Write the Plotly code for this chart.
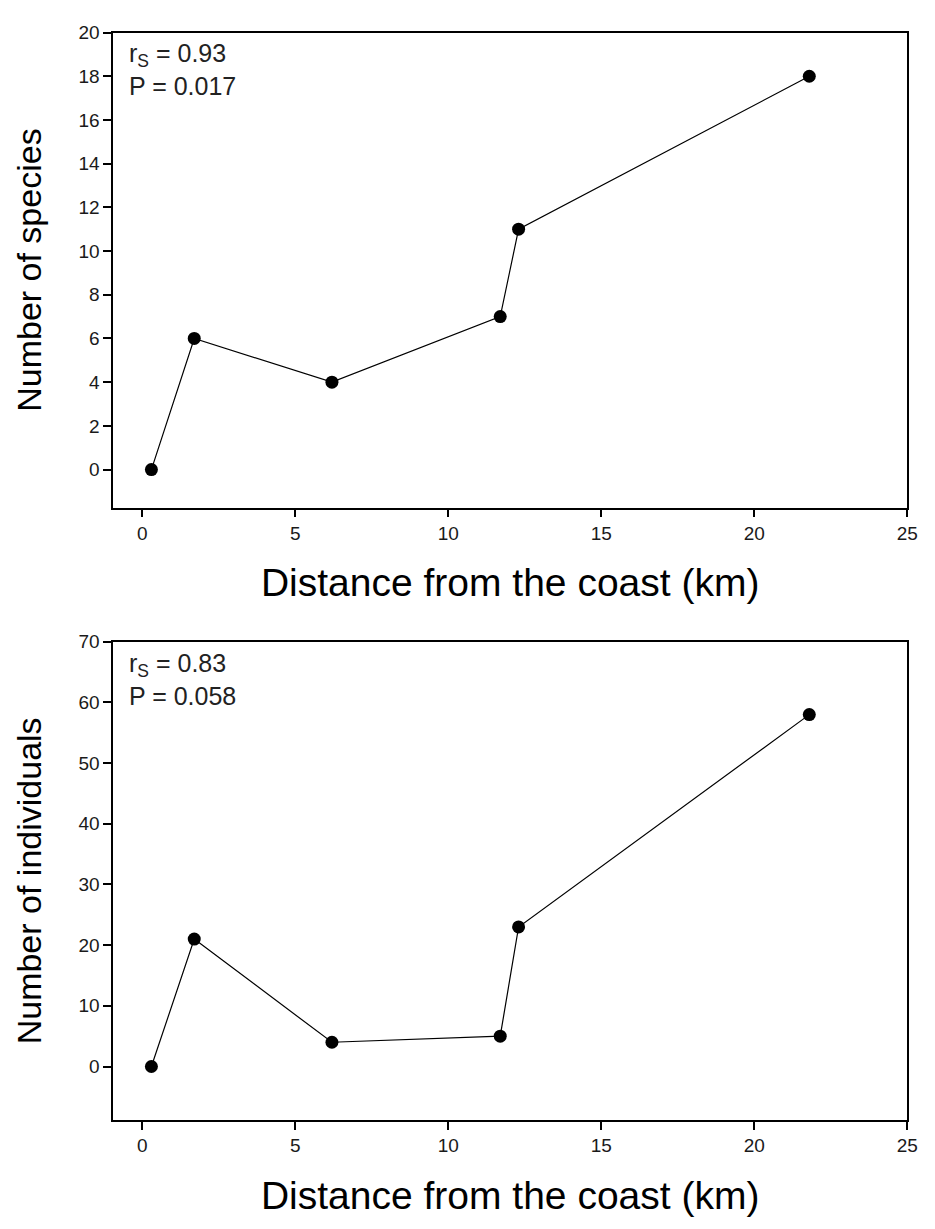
import plotly.graph_objects as go
from plotly.subplots import make_subplots

# Sampling sites: distance from the coast (km)
distance_km = [0.3, 1.7, 6.2, 11.7, 12.3, 21.8]
# Species richness per site
n_species = [0, 6, 4, 7, 11, 18]
# Abundance per site
n_individuals = [0, 21, 4, 5, 23, 58]

x_ticks = [0, 5, 10, 15, 20, 25]
species_ticks = list(range(0, 21, 2))
individual_ticks = list(range(0, 71, 10))

stats_species = "r<sub>S</sub> = 0.93<br>P = 0.017"
stats_individuals = "r<sub>S</sub> = 0.83<br>P = 0.058"

W, H = 935, 1229
FONT = "Liberation Sans, Arial, sans-serif"

fig = make_subplots(rows=2, cols=1)

for row, yvals in ((1, n_species), (2, n_individuals)):
    fig.add_trace(
        go.Scatter(
            x=distance_km, y=yvals, mode="lines+markers",
            line=dict(color="black", width=1.2),
            marker=dict(color="black", size=13, symbol="circle"),
            showlegend=False,
        ),
        row=row, col=1,
    )

x_dom = [114.5 / W, 918 / W]
top_dom = [1 - 501.7 / H, 1 - 22.7 / H]
bot_dom = [1 - 1119 / H, 1 - 637 / H]

axis_common = dict(
    showline=True, linecolor="black", linewidth=1.5, mirror=True,
    ticks="outside", ticklen=8, tickwidth=1.5, tickcolor="black",
    showgrid=False, zeroline=False,
    tickfont=dict(family=FONT, size=19, color="#1a1a1a"),
)

xtitle = dict(text="Distance from the coast (km)",
              font=dict(family=FONT, size=39, color="black"), standoff=26)

fig.update_xaxes(domain=x_dom, range=[-0.95, 25], tickvals=x_ticks, title=xtitle,
                 **axis_common, row=1, col=1)
fig.update_xaxes(domain=x_dom, range=[-0.95, 25], tickvals=x_ticks, title=xtitle,
                 **axis_common, row=2, col=1)
fig.update_yaxes(domain=top_dom, range=[-1.74, 20], tickvals=species_ticks,
                 title=dict(text="Number of species",
                            font=dict(family=FONT, size=34, color="black"), standoff=27),
                 **axis_common, row=1, col=1)
fig.update_yaxes(domain=bot_dom, range=[-8.8, 70], tickvals=individual_ticks,
                 title=dict(text="Number of individuals",
                            font=dict(family=FONT, size=34, color="black"), standoff=27),
                 **axis_common, row=2, col=1)

for ref, txt in (("", stats_species), ("2", stats_individuals)):
    fig.add_annotation(
        xref=f"x{ref} domain", yref=f"y{ref} domain", x=0.018, y=0.99,
        xanchor="left", yanchor="top", align="left", showarrow=False,
        text=txt, font=dict(family=FONT, size=25, color="#222"),
    )

fig.update_layout(
    width=W, height=H, margin=dict(l=0, r=0, t=0, b=0),
    paper_bgcolor="white", plot_bgcolor="white",
)

fig.write_html("out.html")
